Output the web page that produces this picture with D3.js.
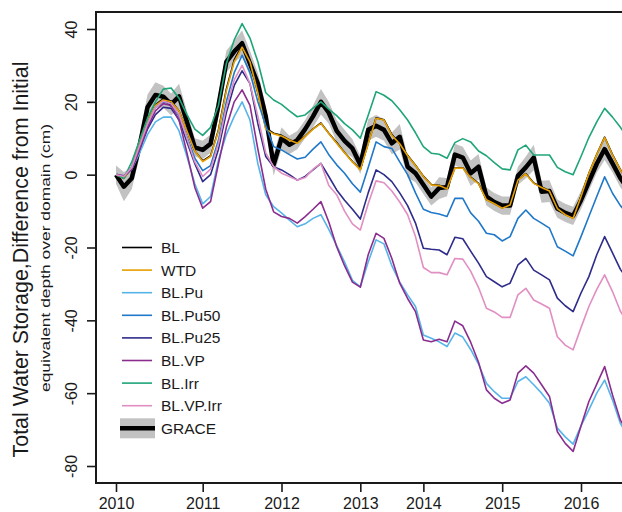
<!DOCTYPE html>
<html>
<head>
<meta charset="utf-8">
<script src="https://cdn.jsdelivr.net/npm/d3@7"></script>
<style>
  html, body { margin: 0; padding: 0; background: #fff; }
  svg { display: block; font-family: "Liberation Sans", Arial, Helvetica, sans-serif; }
</style>
</head>
<body>
<div id="chart"></div>
<script>
// Monthly samples (index along the record); ticks mark the first sample of each year
const tickIndex = [0, 11, 21, 31, 39, 49, 59];
const tickYears = ["2010", "2011", "2012", "2013", "2014", "2015", "2016"];
const yTicks = [-80, -60, -40, -20, 0, 20, 40];

// Total water storage anomaly (cm) for each simulation
const BL = [0,-1,2,9,15,19.2,20.8,20.2,17.5,12,6.5,3.8,5.2,12.3,23.5,31.5,35.5,31,22.5,12.8,
  11.4,10.8,9.6,8.8,10.6,12.6,14.2,11.4,8.8,6.1,3.6,1.5,8.6,15.6,15.1,11,8.6,5.3,2.6,-0.4,
  -2.7,-2.9,-3.8,1.9,1.9,-0.7,-2.4,-6.8,-7.9,-9.1,-8.2,-1.4,0.3,-2.3,-3.4,-4.4,-9.2,-10.9,-11.9,-5.9,
  0.4,5.6,10.3,5.5,1.4,-1.9];
const WTD = [0,-1,2,9,15,19,20.5,20,17.5,12,6.5,3.6,5,12,23,31,35,31,22.5,12.5,
  11.2,10.6,9.5,8.6,10.5,12.5,14.1,11.3,8.6,6,3.5,1.3,8.5,15.5,15,10.8,8.5,5.2,2.5,-0.5,
  -2.8,-3,-3.9,1.8,1.8,-0.8,-2.5,-6.9,-8,-9.2,-8.3,-1.5,0.2,-2.4,-3.5,-4.5,-9.3,-11,-12,-6,
  0.3,5.5,10.2,5.4,1.3,-2];
const BL_Pu = [0,-0.3,1.5,6,11,14.5,15.8,15.8,12,5,-2.5,-8,-6,4,11,16,20,15,3,-5.5,
  -8.8,-10.5,-12.5,-14.3,-13.5,-12,-11,-15,-19.5,-24,-29,-30.8,-24,-17.9,-19,-25,-29.5,-33,-36.2,-44,
  -44.9,-45.9,-47.2,-43.5,-44.6,-48,-52,-57.3,-59.6,-61.4,-61.4,-56.8,-55.5,-57.7,-60,-62.8,-69.6,-72,-74,-69,
  -64.6,-60,-56.4,-61.9,-68.3,-72];
const BL_Pu50 = [0,-0.5,2,8,14,18.5,20,19.5,16,10.5,4.5,1.1,2.5,9.5,20,28,32.8,28,20,13.5,
  7.7,6.8,5.5,4.3,4.8,7,9,5.5,2.7,0.4,-2.5,-4.8,2,9,7.7,7.2,3.5,0,-5,-9.5,
  -10.4,-10.8,-11.5,-6.5,-6.5,-10.5,-12.8,-16.1,-16.5,-18.2,-17,-12,-9.7,-12,-13.3,-14.7,-19.8,-21,-22.3,-17,
  -11.5,-6,-0.6,-5.1,-8.5,-11];
const BL_Pu25 = [0,-0.5,1.5,7,12.5,16.5,18.5,18.2,15,9,3,-1.9,0,7,17,24.5,28.5,25,14,5,
  2.2,1.3,0,-1.5,-0.5,1.3,3.1,-0.5,-4.2,-7,-9.5,-12.2,-5,1.3,0,-1.9,-5,-8.5,-13.3,-20.2,
  -20.5,-20.7,-22,-17.2,-17.6,-21,-24.3,-28,-29.4,-30.8,-29.8,-24.8,-23,-26.2,-27.5,-28.9,-33.9,-36,-37.6,-32.5,
  -28,-22,-17,-21.5,-26,-29];
const BL_VP = [0,-0.3,1.5,7,13,17.5,19.5,19,15,6,-3.5,-9.2,-7.4,3,13,20,23.3,19,7,-4,
  -10.2,-11.5,-12,-13.3,-11.5,-9.5,-7.4,-13,-19.8,-25,-29.5,-30.9,-22,-16.1,-17.5,-23,-29.8,-34,-37.6,-45.4,
  -45.9,-45.2,-45.9,-40.2,-41.5,-46,-51.5,-59.1,-61.4,-62.8,-61.9,-54.5,-52.5,-54.5,-57.7,-60.9,-70.6,-73.8,-76,-69,
  -62.3,-57.5,-52.7,-60.5,-67.4,-71];
const BL_Irr = [0,-1,3.5,9.5,15.5,20,23.5,23.8,21,16.5,12.5,10.8,13,19,30.5,37,41.5,37.5,31,22.5,
  20.5,19.3,17.5,15.9,16.4,18.3,20,18,16.2,14,12.3,10,16.3,22.8,21.8,20.3,17.8,15,11.5,7.7,
  5.9,5.6,4.5,8.8,9.9,9,6.5,5.2,3.3,1.6,1.3,6.8,8.1,5.4,5.4,5.4,2,0.8,0,5,
  10.2,14.5,18.2,15.8,13,10];
const BL_VP_Irr = [0,-0.5,2,8,14,18.5,20.2,19.5,16.5,10,3.5,-0.5,1.5,8.5,18.5,26,30,25,16,6,
  2.2,0.4,-0.5,-1.5,-0.8,1.5,3.1,-3,-5.5,-10,-13.5,-15.2,-8,-1.7,-2.2,-4.5,-7.5,-11,-17,-25.5,
  -26.9,-26.9,-27.5,-23,-23.2,-26.5,-31,-36.7,-37.7,-39.2,-39.2,-33,-31.2,-34.4,-35.5,-36.7,-44.5,-46.8,-48.1,-42,
  -36.2,-31.5,-27.5,-32.1,-37.5,-41];

// GRACE observations and their uncertainty (cm)
const GRACE = [0,-3.3,-1,8,18.5,21.9,21.4,19.3,21.5,14.5,7.5,6.8,8.5,19,31,33.8,36.1,30.5,25,16,
  2.7,10,8.2,9.5,12.5,16,20,17,12,9.3,7.2,2.7,12.3,13.4,12.3,8.6,10.4,2.2,0.4,-2.8,
  -6,-3.7,-3.4,5.5,4.7,0.4,2.2,-6,-7.5,-8.5,-8.5,-0.3,2,4.7,-4.7,-4.5,-9.3,-10.5,-11.3,-7,
  -2,3,7,3.1,-1,-4];
const GRACE_err = [2.5,4,3,3,3.5,3.5,3,3,3.5,3,2.5,2.5,2.5,3,3,3,3.5,3.5,3,3,
  3,3,2.5,2.5,2.5,3,3.5,3,3,3,2.5,2.5,3,3,3,3,3.5,3,2.5,2.5,
  2.5,3,2.5,3,3,3.5,3.5,2.5,2.5,2.5,2.5,2.5,3,3.5,3,3,2.5,2.5,2.5,2.5,
  2.5,2.5,3,2.5,2.5,2.5];

const seriesNames = ["BL", "WTD", "BL.Pu", "BL.Pu50", "BL.Pu25", "BL.VP", "BL.Irr", "BL.VP.Irr"];
const seriesValues = [BL, WTD, BL_Pu, BL_Pu50, BL_Pu25, BL_VP, BL_Irr, BL_VP_Irr];
const seriesColors = ["#000000", "#E69F00", "#56B4E9", "#1F78C8", "#2E2C8A", "#8A2D8F", "#1FA57A", "#E18FC2"];

const W = 622, H = 512;
const plot = { left: 96, top: 12, bottom: 483, right: 660 };
const FONT = "'Liberation Sans', Arial, Helvetica, sans-serif";

const svg = d3.select("#chart").append("svg")
  .attr("width", W).attr("height", H);

const x = d3.scaleLinear().domain([0, 59]).range([116, 581]);
const y = d3.scaleLinear().domain([-80, 40]).range([466, 29]);

svg.append("defs").append("clipPath").attr("id", "plotclip")
  .append("rect")
  .attr("x", plot.left).attr("y", plot.top)
  .attr("width", plot.right - plot.left).attr("height", plot.bottom - plot.top);

const g = svg.append("g").attr("clip-path", "url(#plotclip)");

// GRACE uncertainty band
const band = d3.area()
  .x((d, i) => x(i))
  .y0((d, i) => y(d - GRACE_err[i]))
  .y1((d, i) => y(d + GRACE_err[i]));
g.append("path").datum(GRACE)
  .attr("d", band)
  .attr("fill", "#c2c2c2");

// GRACE line
const line = d3.line().x((d, i) => x(i)).y(d => y(d));
g.append("path").datum(GRACE)
  .attr("d", line)
  .attr("fill", "none")
  .attr("stroke", "#000")
  .attr("stroke-width", 4.5)
  .attr("stroke-linejoin", "round");

// model runs
seriesValues.forEach((vals, k) => {
  g.append("path").datum(vals)
    .attr("d", line)
    .attr("fill", "none")
    .attr("stroke", seriesColors[k])
    .attr("stroke-width", 1.6)
    .attr("stroke-linejoin", "round");
});

// plot frame
svg.append("rect")
  .attr("x", plot.left).attr("y", plot.top)
  .attr("width", plot.right - plot.left).attr("height", plot.bottom - plot.top)
  .attr("fill", "none").attr("stroke", "#1a1a1a").attr("stroke-width", 2);

// x axis
const xAxis = svg.append("g")
  .attr("transform", `translate(0,${plot.bottom})`)
  .call(d3.axisBottom(x).tickValues(tickIndex).tickFormat((d, i) => tickYears[i]).tickSize(9).tickPadding(6));
xAxis.select(".domain").remove();
xAxis.selectAll("line").attr("stroke", "#1a1a1a").attr("stroke-width", 1.6);
xAxis.selectAll("text").attr("font-size", 16).attr("fill", "#1a1a1a").attr("font-family", FONT);

// y axis (plain hyphen for negatives)
const yAxis = svg.append("g")
  .attr("transform", `translate(${plot.left},0)`)
  .call(d3.axisLeft(y).tickValues(yTicks).tickFormat(d => String(d)).tickSize(9));
yAxis.select(".domain").remove();
yAxis.selectAll("line").attr("stroke", "#1a1a1a").attr("stroke-width", 1.6);
yAxis.selectAll("text")
  .attr("transform", "rotate(-90)")
  .attr("x", 0).attr("y", -19).attr("dy", 0)
  .attr("text-anchor", "middle")
  .attr("font-size", 16).attr("fill", "#1a1a1a")
  .attr("font-family", FONT);

// axis titles
svg.append("text")
  .attr("transform", "translate(28,259.5) rotate(-90)")
  .attr("text-anchor", "middle")
  .attr("font-size", 21.4).attr("fill", "#1a1a1a")
  .text("Total Water Storage,Difference from Initial");
svg.append("text")
  .attr("transform", "translate(50,258) rotate(-90)")
  .attr("text-anchor", "middle")
  .attr("font-size", 13.5).attr("fill", "#1a1a1a")
  .attr("textLength", 268).attr("lengthAdjust", "spacingAndGlyphs")
  .text("equivalent depth over domain (cm)");

// legend
const leg = svg.append("g");
const legY0 = 247.5, legStep = 22.6;
seriesNames.forEach((name, k) => {
  const yy = legY0 + k * legStep;
  leg.append("line")
    .attr("x1", 122).attr("x2", 152).attr("y1", yy).attr("y2", yy)
    .attr("stroke", seriesColors[k]).attr("stroke-width", 1.6);
  leg.append("text")
    .attr("x", 161).attr("y", yy).attr("dy", "0.36em")
    .attr("font-size", 15.5).attr("fill", "#1a1a1a")
    .text(name);
});
const gy = legY0 + seriesNames.length * legStep;
leg.append("rect")
  .attr("x", 120).attr("y", gy - 10).attr("width", 35).attr("height", 20)
  .attr("fill", "#c2c2c2");
leg.append("line")
  .attr("x1", 120).attr("x2", 155).attr("y1", gy).attr("y2", gy)
  .attr("stroke", "#000").attr("stroke-width", 4.5);
leg.append("text")
  .attr("x", 161).attr("y", gy).attr("dy", "0.36em")
  .attr("font-size", 15.5).attr("fill", "#1a1a1a")
  .text("GRACE");
</script>
</body>
</html>
